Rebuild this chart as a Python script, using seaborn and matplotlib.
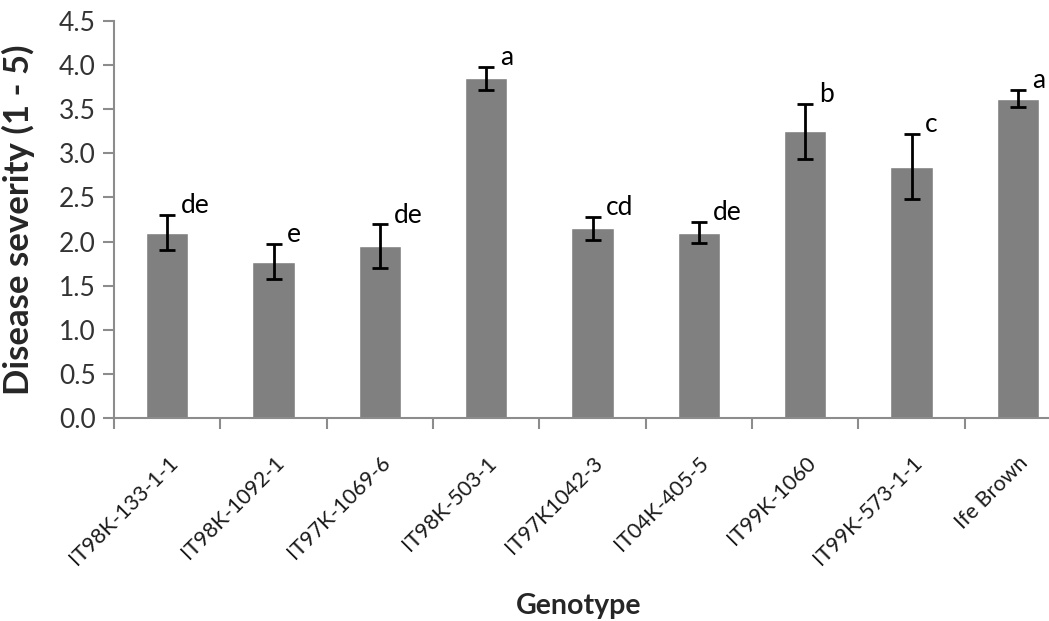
import numpy as np
import pandas as pd
import seaborn as sns
import matplotlib.pyplot as plt
from matplotlib.ticker import MultipleLocator, FixedLocator

# data
genotypes = ["IT98K-133-1-1", "IT98K-1092-1", "IT97K-1069-6", "IT98K-503-1",
             "IT97K1042-3", "IT04K-405-5", "IT99K-1060", "IT99K-573-1-1", "Ife Brown"]
severity = [2.10, 1.77, 1.95, 3.85, 2.15, 2.10, 3.25, 2.85, 3.62]
std_err = [0.20, 0.20, 0.245, 0.13, 0.13, 0.12, 0.31, 0.37, 0.10]
letters = ["de", "e", "de", "a", "cd", "de", "b", "c", "a"]

df = pd.DataFrame({"Genotype": genotypes, "Severity": severity, "SE": std_err})

sns.set_style("white")
plt.rcParams["font.family"] = ["Lato", "DejaVu Sans"]

fig = plt.figure(figsize=(10.49, 6.21), dpi=100)
# plot area runs past the right edge, like the cropped original
ax = fig.add_axes([0.1087, 0.3269, 0.9123, 0.6393])

sns.barplot(data=df, x="Genotype", y="Severity", color="#808080",
            saturation=1, width=0.40, errorbar=None, ax=ax)
ax.errorbar(np.arange(len(df)), df["Severity"], yerr=df["SE"], fmt="none",
            ecolor="black", elinewidth=2, capsize=6, capthick=2, zorder=3)

for i, (m, e, lab) in enumerate(zip(severity, std_err, letters)):
    ax.text(i + 0.13, m + e + 0.02, lab, ha="left", va="baseline",
            fontsize=19, color="black")

ax.set_xlim(-0.5, len(df) - 0.5)
ax.set_ylim(0, 4.5)
ax.yaxis.set_major_locator(MultipleLocator(0.5))
ax.yaxis.set_major_formatter(plt.FormatStrFormatter("%.1f"))

# category boundaries get the tick marks, labels sit on the bar centres
ax.xaxis.set_minor_locator(FixedLocator(np.arange(-0.5, len(df), 1.0)))
ax.tick_params(axis="x", which="major", length=0, pad=25, labelsize=15.5,
               labelcolor="#1a1a1a")
ax.tick_params(axis="x", which="minor", length=8, width=1.5, color="#8c8c8c",
               direction="out", bottom=True)
ax.tick_params(axis="y", length=8, width=1.5, color="#8c8c8c", direction="out",
               left=True, labelsize=19, labelcolor="#333333", pad=5)
plt.setp(ax.get_xticklabels(), rotation=45, ha="right", rotation_mode="anchor")

for side in ["top", "right"]:
    ax.spines[side].set_visible(False)
for side in ["left", "bottom"]:
    ax.spines[side].set_color("#8c8c8c")
    ax.spines[side].set_linewidth(1.5)

ax.set_xlabel("Genotype", fontsize=20.5, fontweight="bold")
ax.set_ylabel("Disease severity (1 - 5)", fontsize=25, fontweight="bold")
ax.xaxis.set_label_coords(0.485, -0.44)
ax.yaxis.set_label_coords(-0.083, 0.5)

fig.savefig("out.png", dpi=100)
